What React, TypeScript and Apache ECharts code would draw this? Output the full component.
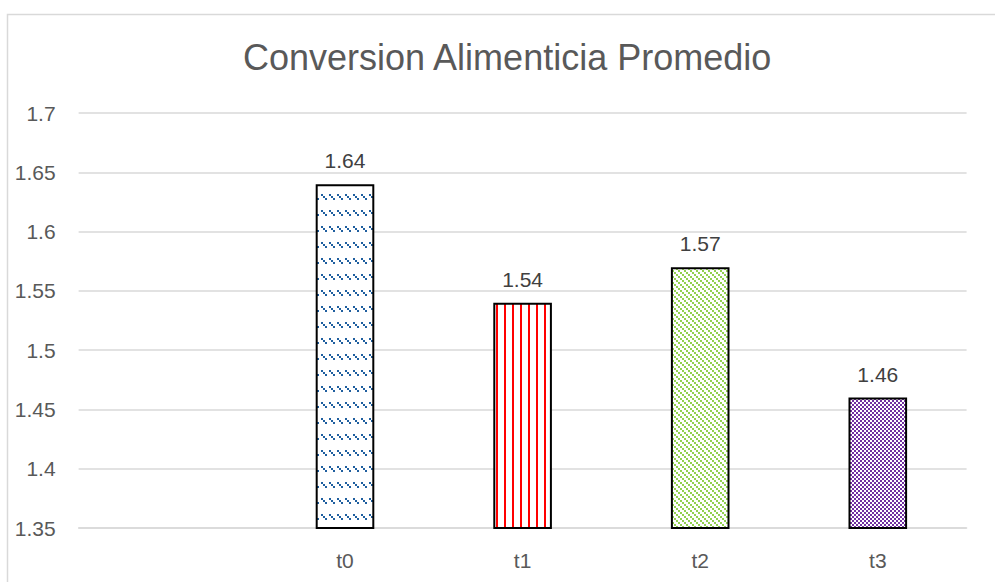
import React, { useEffect, useRef } from "react";
import * as echarts from "echarts";

const categories = ["", "t0", "t1", "t2", "t3"];
const values: (number | null)[] = [null, 1.64, 1.54, 1.57, 1.46];
const yTicks = { min: 1.35, max: 1.7, interval: 0.05 };
const titleText = "Conversion Alimenticia Promedio";

function makeTile(w: number, h: number, draw: (ctx: CanvasRenderingContext2D) => void) {
  const c = document.createElement("canvas");
  c.width = w;
  c.height = h;
  const ctx = c.getContext("2d")!;
  ctx.fillStyle = "#ffffff";
  ctx.fillRect(0, 0, w, h);
  draw(ctx);
  return c;
}

function patterns() {
  const blue = makeTile(8, 16, (ctx) => {
    ctx.fillStyle = "#1F5F9F";
    for (let i = 0; i < 3; i++) ctx.fillRect(1 + i * 2, 2 + i * 2, 2, 2);
  });
  const red = makeTile(8, 4, (ctx) => {
    ctx.fillStyle = "#FF0000";
    ctx.fillRect(0, 0, 2, 4);
  });
  const green = makeTile(6, 6, (ctx) => {
    ctx.fillStyle = "#92D050";
    ctx.fillRect(0, 0, 2, 2);
    ctx.fillRect(2, 2, 2, 2);
    ctx.fillRect(4, 4, 2, 2);
  });
  const purple = makeTile(4, 4, (ctx) => {
    ctx.fillStyle = "#7030A0";
    ctx.fillRect(0, 0, 2, 2);
    ctx.fillRect(2, 2, 2, 2);
  });
  return [null, blue, red, green, purple];
}

export default function App() {
  const ref = useRef<HTMLDivElement>(null);
  useEffect(() => {
    if (!ref.current) return;
    const chart = echarts.init(ref.current, null, { renderer: "svg" });
    const pats = patterns();
    const font = "'Liberation Sans', Arial, sans-serif";
    chart.setOption({
      animation: false,
      backgroundColor: "#ffffff",
      title: {
        text: titleText,
        left: 238,
        top: 34,
        textStyle: { fontFamily: font, fontSize: 36, fontWeight: "normal", color: "#595959" },
      },
      graphic: [
        {
          type: "rect",
          shape: { x: 7.5, y: 14.5, width: 1100, height: 700 },
          style: { fill: "none", stroke: "#d9d9d9", lineWidth: 1.5 },
          silent: true,
        },
      ],
      grid: { left: 78.6, right: 28.4, top: 113, bottom: 54, containLabel: false },
      xAxis: {
        type: "category",
        data: categories,
        axisTick: { show: false },
        axisLine: { show: true, lineStyle: { color: "#d9d9d9", width: 1.5 } },
        axisLabel: { fontFamily: font, fontSize: 21, color: "#595959", margin: 22 },
      },
      yAxis: {
        type: "value",
        min: yTicks.min,
        max: yTicks.max,
        interval: yTicks.interval,
        axisLine: { show: false },
        axisTick: { show: false },
        splitLine: { lineStyle: { color: "#d9d9d9", width: 1.5 } },
        axisLabel: {
          fontFamily: font,
          fontSize: 21,
          color: "#595959",
          margin: 23,
          formatter: (v: number) => String(parseFloat(v.toFixed(2))),
        },
      },
      series: [
        {
          type: "bar",
          barWidth: "33%",
          data: values.map((v, i) => ({
            value: v,
            itemStyle: pats[i]
              ? { color: { image: pats[i], repeat: "repeat" }, borderColor: "#000000", borderWidth: 2 }
              : undefined,
          })),
          label: {
            show: true,
            position: "top",
            distance: 13,
            fontFamily: font,
            fontSize: 21,
            color: "#404040",
            formatter: (p: any) => (p.value == null ? "" : String(p.value)),
          },
        },
      ],
    });
    return () => chart.dispose();
  }, []);
  return (
    <div
      ref={ref}
      style={{ position: "fixed", left: 0, top: 0, width: 995, height: 582 }}
    />
  );
}
